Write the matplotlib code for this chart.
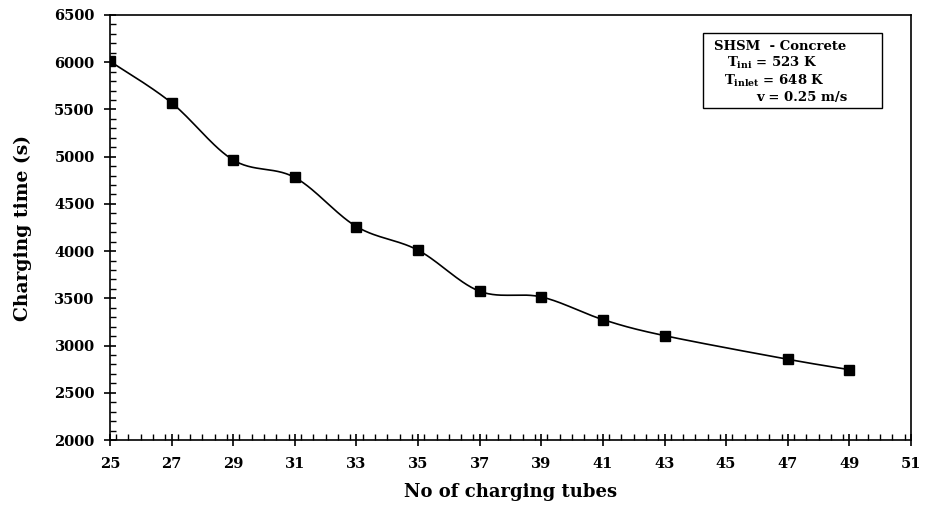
import matplotlib.pyplot as plt
import numpy as np
from matplotlib.patches import Rectangle
from matplotlib.ticker import MultipleLocator

tubes = [25, 27, 29, 31, 33, 35, 37, 39, 41, 43, 47, 49]
charging_time = [6010, 5570, 4965, 4780, 4260, 4010, 3575, 3515, 3275, 3105, 2855, 2745]

x_ticks = list(range(25, 52, 2))
y_ticks = list(range(2000, 6501, 500))

box_lines = [
    "SHSM  - Concrete",
    r"$\mathbf{T_{ini}}$ = 523 K",
    r"$\mathbf{T_{inlet}}$ = 648 K",
    "v = 0.25 m/s",
]


def smooth_curve(x, y, n=30):
    # piecewise cubic bezier through the points, excel-style smoothing
    x = np.asarray(x, float)
    y = np.asarray(y, float)
    xs, ys = [], []
    for i in range(len(x) - 1):
        p0 = np.array([x[max(i - 1, 0)], y[max(i - 1, 0)]])
        p1 = np.array([x[i], y[i]])
        p2 = np.array([x[i + 1], y[i + 1]])
        p3 = np.array([x[min(i + 2, len(x) - 1)], y[min(i + 2, len(x) - 1)]])
        c1 = p1 + (p2 - p0) / 6.0
        c2 = p2 - (p3 - p1) / 6.0
        t = np.linspace(0, 1, n)[:, None]
        pts = ((1 - t) ** 3) * p1 + 3 * ((1 - t) ** 2) * t * c1 + 3 * (1 - t) * t ** 2 * c2 + t ** 3 * p2
        xs.extend(pts[:, 0])
        ys.extend(pts[:, 1])
    return np.array(xs), np.array(ys)


plt.rcParams["font.family"] = ["DejaVu Serif"]
plt.rcParams["font.weight"] = "bold"
plt.rcParams["mathtext.fontset"] = "custom"
plt.rcParams["mathtext.rm"] = "DejaVu Serif:bold"
plt.rcParams["mathtext.bf"] = "DejaVu Serif:bold"
plt.rcParams["mathtext.it"] = "DejaVu Serif:bold"

fig = plt.figure(figsize=(9.35, 5.05), dpi=100)
ax = fig.add_axes([0.1176, 0.1287, 0.8567, 0.8416])

sx, sy = smooth_curve(tubes, charging_time)
ax.plot(sx, sy, color="black", linewidth=1.2, zorder=2)
ax.plot(tubes, charging_time, linestyle="none", marker="s", markersize=6.5,
        color="black", zorder=3)

ax.set_xlim(25, 51)
ax.set_ylim(2000, 6500)
ax.set_xticks(x_ticks)
ax.set_yticks(y_ticks)
ax.xaxis.set_minor_locator(MultipleLocator(0.4))
ax.yaxis.set_minor_locator(MultipleLocator(100))
ax.tick_params(which="major", direction="inout", length=8, width=1.2, labelsize=10.5)
ax.tick_params(which="minor", direction="in", length=4, width=1.0)
ax.tick_params(axis="x", pad=8)
ax.tick_params(axis="y", pad=7)
for label in ax.get_xticklabels() + ax.get_yticklabels():
    label.set_fontweight("bold")
for spine in ax.spines.values():
    spine.set_linewidth(1.2)

ax.set_xlabel("No of charging tubes", fontsize=13, fontweight="bold", labelpad=9)
ax.set_ylabel("Charging time (s)", fontsize=13.5, fontweight="bold", labelpad=16)

# annotation box with the case conditions
fig.add_artist(Rectangle((703 / 935, 1 - 108 / 505), 179 / 935, 75 / 505,
                         transform=fig.transFigure, facecolor="white",
                         edgecolor="black", linewidth=1.0))
line_pos = [(714, 46), (727, 63), (724, 81), (756, 98)]
for (px, py), txt in zip(line_pos, box_lines):
    fig.text(px / 935, 1 - py / 505, txt, fontsize=9.5, fontweight="bold",
             ha="left", va="center")

fig.savefig("out.png", dpi=100)
